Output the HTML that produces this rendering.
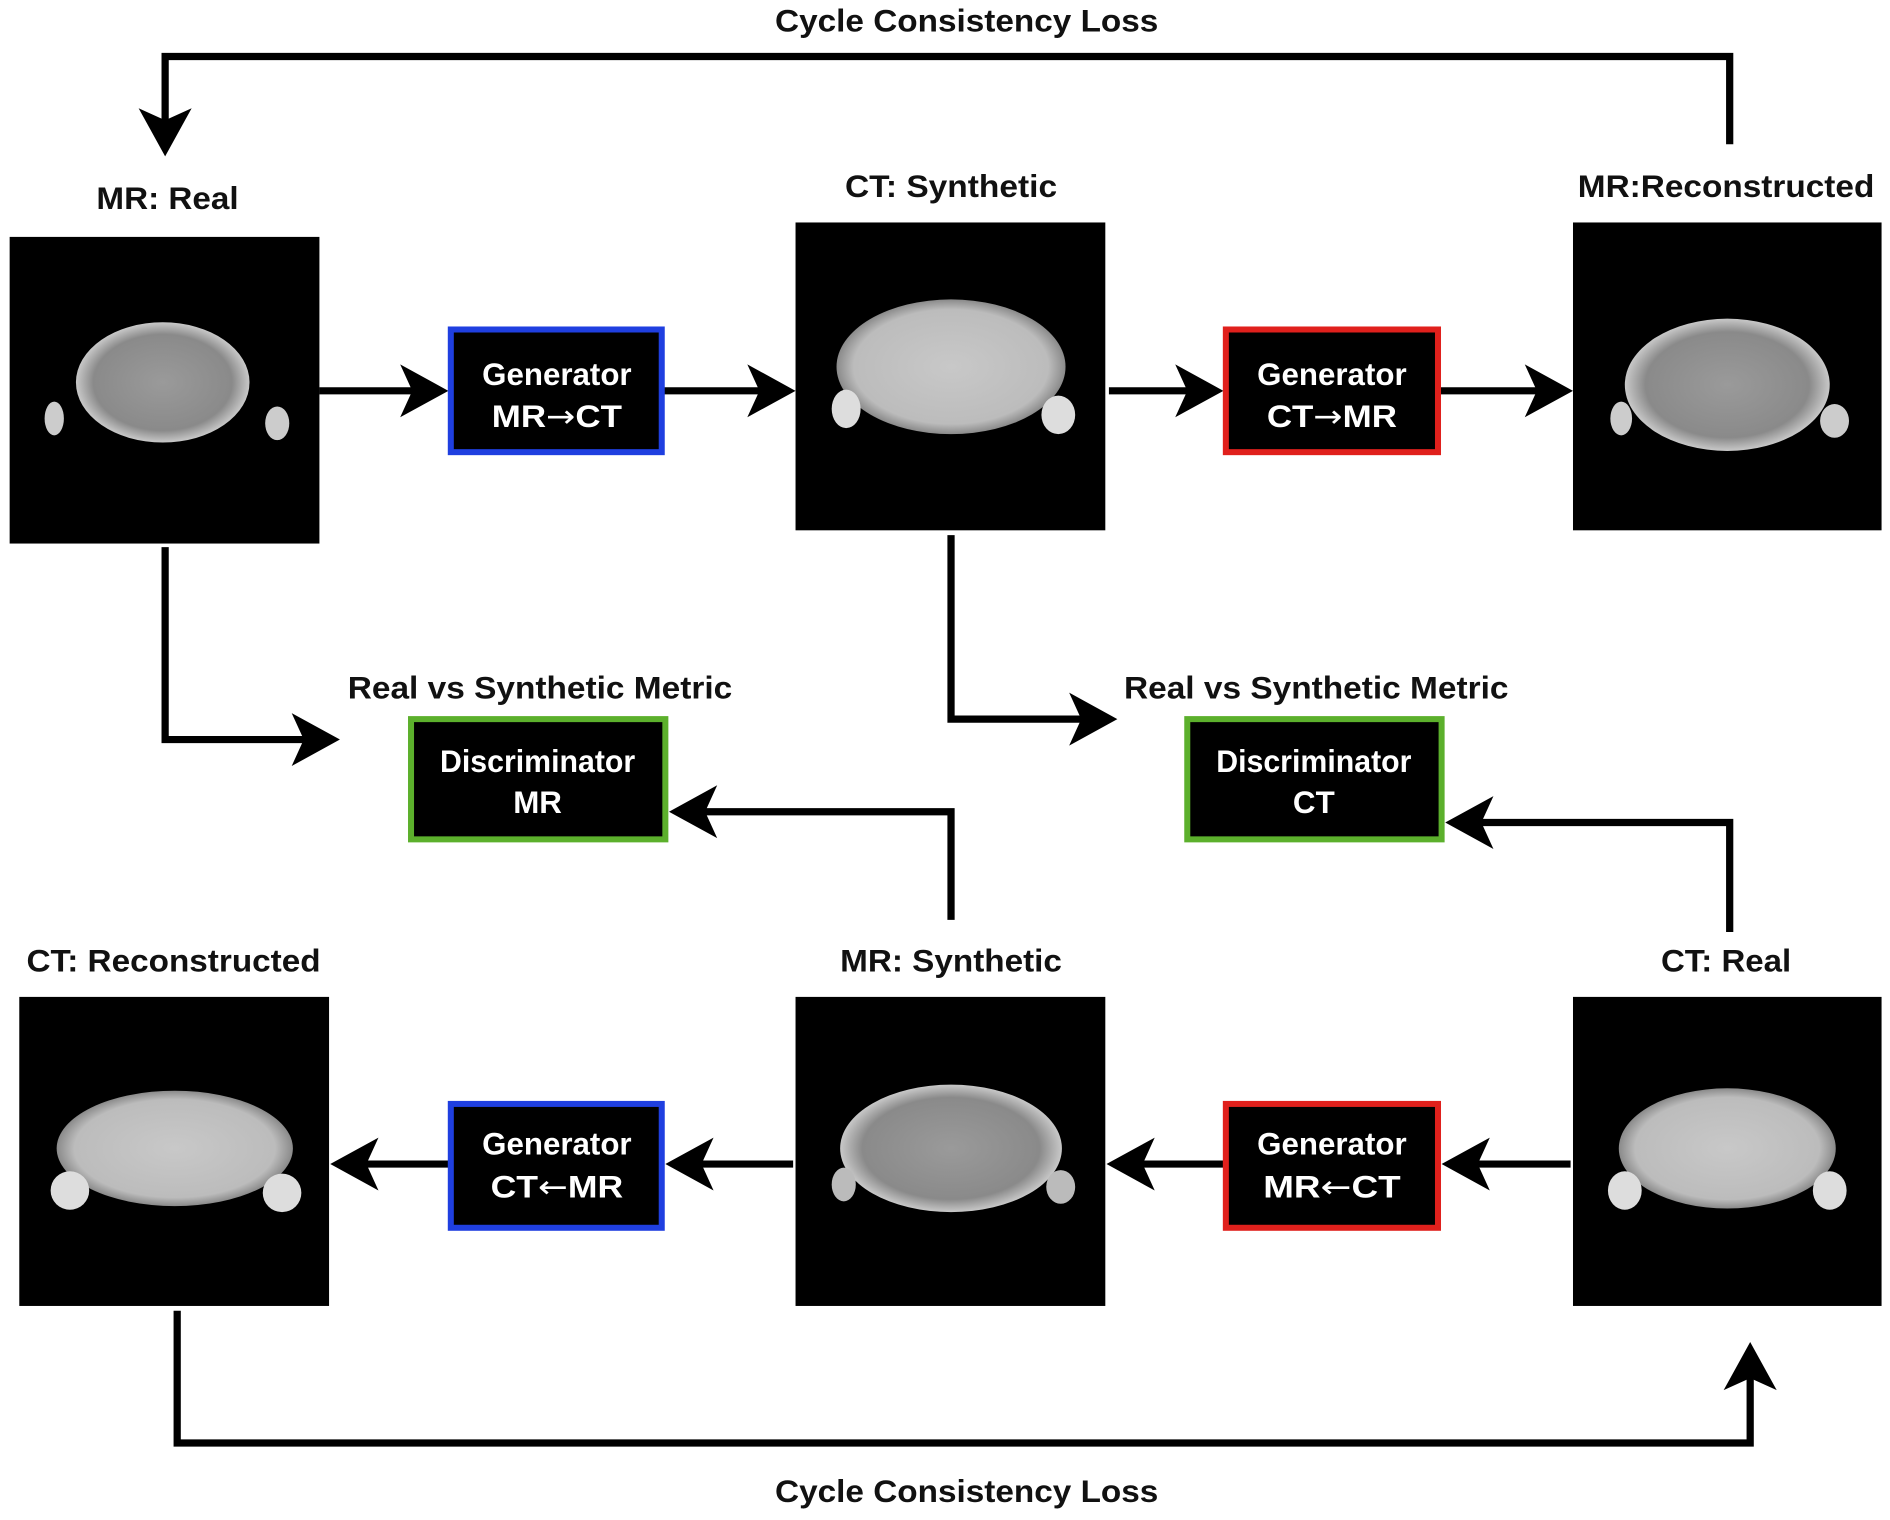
<!DOCTYPE html>
<html><head><meta charset="utf-8"><style>
html,body{margin:0;padding:0;background:#fff;}
svg{display:block;}
text{font-family:"Liberation Sans",sans-serif;font-size:26px;font-weight:bold;}
.ar{font-family:"DejaVu Sans",sans-serif;font-weight:normal;}
</style></head><body>
<svg width="1890" height="1520" viewBox="0 0 1568 1264" preserveAspectRatio="none" xmlns="http://www.w3.org/2000/svg">
<defs>
<radialGradient id="mr" cx="50%" cy="50%" r="50%">
<stop offset="0" stop-color="#9a9a9a"/><stop offset="0.8" stop-color="#8a8a8a"/><stop offset="1" stop-color="#c8c8c8"/>
</radialGradient>
<radialGradient id="ct" cx="50%" cy="50%" r="50%">
<stop offset="0" stop-color="#c8c8c8"/><stop offset="0.85" stop-color="#bcbcbc"/><stop offset="1" stop-color="#8a8a8a"/>
</radialGradient>
<g id="ah"><polygon points="0,0 -40,-22 -30,0 -40,22" fill="#000"/></g>
</defs>
<g fill="none" stroke="#000" stroke-width="6">
<polyline points="1435,120 1435,47 137,47 137,110"/>
<polyline points="137,455 137,615 262,615"/>
<polyline points="789,445 789,598 907,598"/>
<polyline points="789,765 789,675 574,675"/>
<polyline points="1435,775 1435,684 1218,684"/>
<polyline points="147,1090 147,1200 1452,1200 1452,1136"/>
<line x1="265" y1="325" x2="352" y2="325"/>
<line x1="551" y1="325" x2="640" y2="325"/>
<line x1="920" y1="325" x2="995" y2="325"/>
<line x1="1195" y1="325" x2="1285" y2="325"/>
<line x1="1303" y1="968" x2="1215" y2="968"/>
<line x1="1015" y1="968" x2="938" y2="968"/>
<line x1="658" y1="968" x2="571" y2="968"/>
<line x1="372" y1="968" x2="293" y2="968"/>
</g>
<use href="#ah" transform="translate(137,130) rotate(90)"/>
<use href="#ah" transform="translate(282,615)"/>
<use href="#ah" transform="translate(927,598)"/>
<use href="#ah" transform="translate(555,675) rotate(180)"/>
<use href="#ah" transform="translate(1199,684) rotate(180)"/>
<use href="#ah" transform="translate(1452,1116) rotate(-90)"/>
<use href="#ah" transform="translate(372,325)"/>
<use href="#ah" transform="translate(660,325)"/>
<use href="#ah" transform="translate(1015,325)"/>
<use href="#ah" transform="translate(1305,325)"/>
<use href="#ah" transform="translate(1196,968) rotate(180)"/>
<use href="#ah" transform="translate(918,968) rotate(180)"/>
<use href="#ah" transform="translate(552,968) rotate(180)"/>
<use href="#ah" transform="translate(274,968) rotate(180)"/>

<rect x="8" y="197" width="257" height="255" fill="#000"/>
<ellipse cx="135" cy="318" rx="72" ry="50" fill="url(#mr)"/>
<ellipse cx="45" cy="348" rx="8" ry="14" fill="#ccc"/><ellipse cx="230" cy="352" rx="10" ry="14" fill="#ccc"/>
<rect x="660" y="185" width="257" height="256" fill="#000"/>
<ellipse cx="789" cy="305" rx="95" ry="56" fill="url(#ct)"/>
<ellipse cx="702" cy="340" rx="12" ry="16" fill="#ddd"/><ellipse cx="878" cy="345" rx="14" ry="16" fill="#ddd"/>
<rect x="1305" y="185" width="256" height="256" fill="#000"/>
<ellipse cx="1433" cy="320" rx="85" ry="55" fill="url(#mr)"/>
<ellipse cx="1345" cy="348" rx="9" ry="14" fill="#ccc"/><ellipse cx="1522" cy="350" rx="12" ry="14" fill="#ccc"/>
<rect x="16" y="829" width="257" height="257" fill="#000"/>
<ellipse cx="145" cy="955" rx="98" ry="48" fill="url(#ct)"/>
<ellipse cx="58" cy="990" rx="16" ry="16" fill="#ddd"/><ellipse cx="234" cy="992" rx="16" ry="16" fill="#ddd"/>
<rect x="660" y="829" width="257" height="257" fill="#000"/>
<ellipse cx="789" cy="955" rx="92" ry="53" fill="url(#mr)"/>
<ellipse cx="700" cy="985" rx="10" ry="14" fill="#bbb"/><ellipse cx="880" cy="987" rx="12" ry="14" fill="#bbb"/>
<rect x="1305" y="829" width="256" height="257" fill="#000"/>
<ellipse cx="1433" cy="955" rx="90" ry="50" fill="url(#ct)"/>
<ellipse cx="1348" cy="990" rx="14" ry="16" fill="#ddd"/><ellipse cx="1518" cy="990" rx="14" ry="16" fill="#ddd"/>

<g stroke-width="5">
<rect x="374" y="274" width="175" height="102" fill="#000" stroke="#1f3fe0"/>
<rect x="1017" y="274" width="176" height="102" fill="#000" stroke="#e0201c"/>
<rect x="341" y="598" width="211" height="100" fill="#000" stroke="#5cb02c"/>
<rect x="985" y="598" width="211" height="100" fill="#000" stroke="#5cb02c"/>
<rect x="374" y="918" width="175" height="103" fill="#000" stroke="#1f3fe0"/>
<rect x="1017" y="918" width="176" height="103" fill="#000" stroke="#e0201c"/>
</g>
<g fill="#fff" text-anchor="middle">
<text x="462" y="320" textLength="124" lengthAdjust="spacingAndGlyphs">Generator</text><text x="462" y="355" textLength="108" lengthAdjust="spacingAndGlyphs">MR<tspan class="ar">→</tspan>CT</text>
<text x="1105" y="320" textLength="124" lengthAdjust="spacingAndGlyphs">Generator</text><text x="1105" y="355" textLength="108" lengthAdjust="spacingAndGlyphs">CT<tspan class="ar">→</tspan>MR</text>
<text x="446" y="642" textLength="162" lengthAdjust="spacingAndGlyphs">Discriminator</text><text x="446" y="676">MR</text>
<text x="1090" y="642" textLength="162" lengthAdjust="spacingAndGlyphs">Discriminator</text><text x="1090" y="676">CT</text>
<text x="462" y="960" textLength="124" lengthAdjust="spacingAndGlyphs">Generator</text><text x="462" y="996" textLength="110" lengthAdjust="spacingAndGlyphs">CT<tspan class="ar">←</tspan>MR</text>
<text x="1105" y="960" textLength="124" lengthAdjust="spacingAndGlyphs">Generator</text><text x="1105" y="996" textLength="114" lengthAdjust="spacingAndGlyphs">MR<tspan class="ar">←</tspan>CT</text>
</g>
<g fill="#111" text-anchor="middle">
<text x="802" y="26" textLength="318" lengthAdjust="spacingAndGlyphs">Cycle Consistency Loss</text>
<text x="802" y="1249" textLength="318" lengthAdjust="spacingAndGlyphs">Cycle Consistency Loss</text>
<text x="139" y="174" textLength="118" lengthAdjust="spacingAndGlyphs">MR: Real</text>
<text x="789" y="164" textLength="176" lengthAdjust="spacingAndGlyphs">CT:  Synthetic</text>
<text x="1432" y="164" textLength="246" lengthAdjust="spacingAndGlyphs">MR:Reconstructed</text>
<text x="448" y="581" textLength="319" lengthAdjust="spacingAndGlyphs">Real vs Synthetic Metric</text>
<text x="1092" y="581" textLength="319" lengthAdjust="spacingAndGlyphs">Real vs Synthetic Metric</text>
<text x="144" y="808" textLength="244" lengthAdjust="spacingAndGlyphs">CT: Reconstructed</text>
<text x="789" y="808" textLength="184" lengthAdjust="spacingAndGlyphs">MR:  Synthetic</text>
<text x="1432" y="808" textLength="108" lengthAdjust="spacingAndGlyphs">CT: Real</text>
</g>
</svg>
</body></html>
